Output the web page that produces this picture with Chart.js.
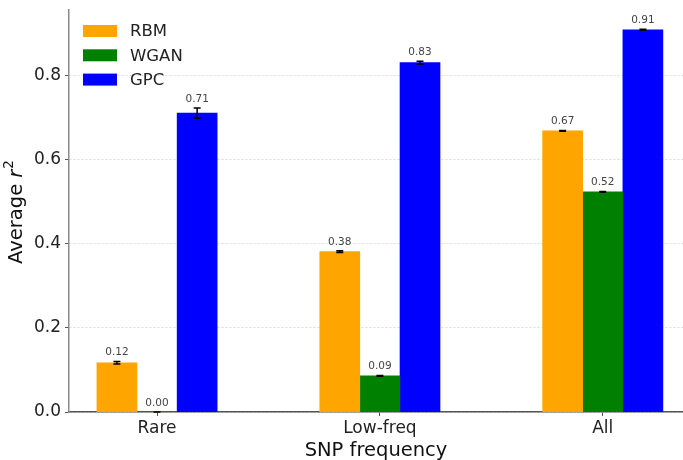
<!DOCTYPE html>
<html>
<head>
<meta charset="utf-8">
<script src="https://cdn.jsdelivr.net/npm/chart.js@4"></script>
<style>
  html, body { margin: 0; padding: 0; background: #ffffff; }
  #wrap { width: 683px; height: 460px; }
</style>
</head>
<body>
<div id="wrap"><canvas id="c" width="683" height="460"></canvas></div>
<script>
// Mean r^2 per SNP frequency class, with standard errors
const categories = ['Rare', 'Low-freq', 'All'];
const seriesNames = ['RBM', 'WGAN', 'GPC'];
const rbmValues = [0.117, 0.381, 0.668];
const wganValues = [0.000, 0.086, 0.523];
const gpcValues = [0.710, 0.830, 0.908];
const rbmErrors = [0.003, 0.002, 0.001];
const wganErrors = [0.000, 0.001, 0.001];
const gpcErrors = [0.012, 0.003, 0.001];
const yTicks = [0.0, 0.2, 0.4, 0.6, 0.8];

const seriesValues = [rbmValues, wganValues, gpcValues];
const seriesErrors = [rbmErrors, wganErrors, gpcErrors];
const seriesColors = ['#FFA500', '#008000', '#0000FF'];

const FONT = "'DejaVu Sans', 'Liberation Sans', sans-serif";
const BAR_W = 0.18;          // bar width in category units
const X_MIN = -0.395, X_MAX = 2.36;
const Y_MAX = 0.955;

const datasets = seriesNames.map((name, k) => ({
  label: name,
  data: categories.map((_, i) => ({ x: i + (k - 1) * BAR_W, y: seriesValues[k][i] })),
  backgroundColor: seriesColors[k],
  borderWidth: 0,
  grouped: false,
  barThickness: 40,
  errors: seriesErrors[k]
}));

// error bars and value labels on top of each bar
const errorBarPlugin = {
  id: 'errorBars',
  afterDatasetsDraw(chart) {
    const ctx = chart.ctx;
    const ys = chart.scales.y;
    ctx.save();
    chart.data.datasets.forEach((ds, d) => {
      const meta = chart.getDatasetMeta(d);
      meta.data.forEach((el, i) => {
        const v = ds.data[i].y;
        const e = ds.errors[i];
        const top = ys.getPixelForValue(v + e);
        const bot = ys.getPixelForValue(v - e);
        const x = el.x;
        ctx.strokeStyle = '#000000';
        ctx.lineWidth = 1.5;
        ctx.beginPath();
        ctx.moveTo(x, top); ctx.lineTo(x, bot);
        ctx.moveTo(x - 3.5, top); ctx.lineTo(x + 3.5, top);
        ctx.moveTo(x - 3.5, bot); ctx.lineTo(x + 3.5, bot);
        ctx.stroke();
        ctx.fillStyle = '#444444';
        ctx.font = '10.5px ' + FONT;
        ctx.textAlign = 'center';
        ctx.textBaseline = 'alphabetic';
        ctx.fillText(v.toFixed(2), x, top - 6);
      });
    });
    ctx.restore();
  },
  afterDraw(chart) {
    const ctx = chart.ctx;
    ctx.save();
    // legend
    chart.data.datasets.forEach((ds, k) => {
      const cy = 31 + k * 24.3;
      ctx.fillStyle = ds.backgroundColor;
      ctx.fillRect(83, cy - 6, 34, 12);
      ctx.fillStyle = '#222222';
      ctx.font = '16.5px ' + FONT;
      ctx.textAlign = 'left';
      ctx.textBaseline = 'middle';
      ctx.fillText(ds.label, 130, cy + 1);
    });
    // y axis title: "Average r²"
    ctx.translate(17, 212);
    ctx.rotate(-Math.PI / 2);
    ctx.fillStyle = '#111111';
    ctx.textBaseline = 'middle';
    ctx.textAlign = 'left';
    const f1 = '19.5px ' + FONT, f2 = 'italic 19.5px ' + FONT, f3 = '13.5px ' + FONT;
    ctx.font = f1; const w1 = ctx.measureText('Average ').width;
    ctx.font = f2; const w2 = ctx.measureText('r').width;
    ctx.font = f3; const w3 = ctx.measureText('2').width;
    let x0 = -(w1 + w2 + w3 + 1) / 2;
    ctx.font = f1; ctx.fillText('Average ', x0, 0);
    ctx.font = f2; ctx.fillText('r', x0 + w1, 0);
    ctx.font = f3; ctx.fillText('2', x0 + w1 + w2 + 1, -8);
    ctx.restore();
  }
};

new Chart(document.getElementById('c'), {
  type: 'bar',
  data: { datasets },
  options: {
    responsive: false,
    devicePixelRatio: 1,
    animation: false,
    layout: { padding: { top: 10, right: 0, left: 0, bottom: 0 } },
    plugins: { legend: { display: false }, tooltip: { enabled: false } },
    scales: {
      x: {
        type: 'linear',
        min: X_MIN, max: X_MAX,
        offset: false,
        afterFit(s) { s.height = 48; s.paddingLeft = 0; s.paddingRight = 0; },
        afterBuildTicks(s) { s.ticks = categories.map((_, i) => ({ value: i })); },
        ticks: {
          callback: (v) => categories[v],
          color: '#222222',
          font: { family: FONT, size: 17 },
          padding: 2,
          maxRotation: 0,
          autoSkip: false
        },
        grid: {
          display: true, offset: false, drawOnChartArea: false, drawTicks: true,
          tickLength: 4, tickColor: '#555555', tickWidth: 1
        },
        border: { display: true, color: '#555555', width: 1.5 },
        title: {
          display: true, text: 'SNP frequency', color: '#111111',
          font: { family: FONT, size: 19.5 }, padding: { top: 0, bottom: -3 }
        }
      },
      y: {
        min: 0, max: Y_MAX,
        afterFit(s) { s.width = 69; s.paddingTop = 0; s.paddingBottom = 0; },
        afterBuildTicks(s) { s.ticks = yTicks.map(v => ({ value: v })); },
        ticks: {
          callback: (v) => v.toFixed(1),
          color: '#222222',
          font: { family: FONT, size: 17 },
          padding: 4
        },
        grid: {
          display: true, drawOnChartArea: true, drawTicks: true,
          color: '#d2d2d2', lineWidth: 0.8,
          tickLength: 4, tickColor: '#555555', tickWidth: 1, tickBorderDash: []
        },
        border: { display: true, color: '#8a8a8a', width: 1.5, dash: [2, 2] }
      }
    }
  },
  plugins: [errorBarPlugin]
});
</script>
</body>
</html>
